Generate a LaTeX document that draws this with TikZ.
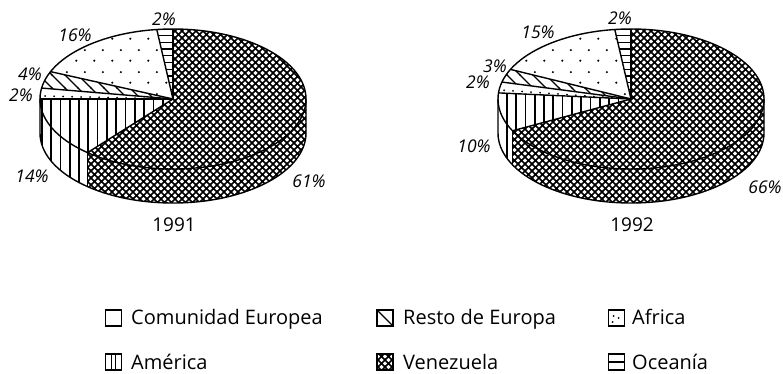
\documentclass[tikz,border=0pt]{standalone}
\usepackage{fontspec}
\setmainfont{Open Sans}
\usetikzlibrary{patterns,calc}

\pgfdeclarepatternformonly{vbars}{\pgfqpoint{-1pt}{-1pt}}{\pgfqpoint{10.3pt}{10.3pt}}{\pgfqpoint{9.3pt}{9.3pt}}{%
  \pgfsetlinewidth{1.7pt}\pgfpathmoveto{\pgfqpoint{4.6pt}{-1pt}}\pgfpathlineto{\pgfqpoint{4.6pt}{10.3pt}}\pgfusepath{stroke}}
\pgfdeclarepatternformonly{hbars}{\pgfqpoint{-1pt}{-1pt}}{\pgfqpoint{7.7pt}{7.7pt}}{\pgfqpoint{6.7pt}{6.7pt}}{%
  \pgfsetlinewidth{1.3pt}\pgfpathmoveto{\pgfqpoint{-1pt}{3.3pt}}\pgfpathlineto{\pgfqpoint{7.7pt}{3.3pt}}\pgfusepath{stroke}}
\pgfdeclarepatternformonly{nwlines}{\pgfqpoint{-1pt}{-1pt}}{\pgfqpoint{14pt}{14pt}}{\pgfqpoint{13pt}{13pt}}{%
  \pgfsetlinewidth{1.2pt}\pgfpathmoveto{\pgfqpoint{-1pt}{14pt}}\pgfpathlineto{\pgfqpoint{14pt}{-1pt}}\pgfusepath{stroke}}
\pgfdeclarepatternformonly{xhatch}{\pgfqpoint{-1pt}{-1pt}}{\pgfqpoint{8pt}{8pt}}{\pgfqpoint{7pt}{7pt}}{%
  \pgfsetlinewidth{1.7pt}%
  \pgfpathmoveto{\pgfqpoint{-1pt}{-1pt}}\pgfpathlineto{\pgfqpoint{8pt}{8pt}}%
  \pgfpathmoveto{\pgfqpoint{-1pt}{8pt}}\pgfpathlineto{\pgfqpoint{8pt}{-1pt}}\pgfusepath{stroke}}
\pgfdeclarepatternformonly{sdots}{\pgfqpoint{0pt}{0pt}}{\pgfqpoint{18pt}{22pt}}{\pgfqpoint{18pt}{22pt}}{%
  \pgfpathcircle{\pgfqpoint{4.5pt}{5.5pt}}{1.2pt}\pgfpathcircle{\pgfqpoint{13.5pt}{16.5pt}}{1.2pt}\pgfusepath{fill}}

\tikzset{
  rim/.style={line width=1.4pt, line join=round},
  dotrow/.style={line width=2pt, line cap=round, dash pattern=on 0pt off 9pt},
  pct/.style={font=\fontsize{17.5}{19}\selectfont\itshape, inner sep=0pt},
  yr/.style={font=\fontsize{19}{21}\selectfont, inner sep=0pt},
  legbox/.style={draw, line width=1.2pt, minimum size=16pt, inner sep=0pt},
  legtext/.style={font=\fontsize{20}{22}\selectfont, inner sep=0pt},
  er/.style={x radius=133pt, y radius=70pt}
}

% #1 name, #2 cx, #3 cy, #4..#8 slice boundaries
\newcommand{\mypie}[8]{%
  \coordinate (#1) at (#2,#3);
  % sides
  \fill[pattern=vbars] ($(#1)+(180:133pt and 70pt)$) arc[start angle=180,end angle=#8,er] -- ++(0,-34) arc[start angle=#8,end angle=180,er] -- cycle;
  \fill[pattern=xhatch] ($(#1)+(#8:133pt and 70pt)$) arc[start angle=#8,end angle=360,er] -- ++(0,-34) arc[start angle=360,end angle=#8,er] -- cycle;
  % top face
  \fill[pattern=hbars] (#1) -- ++(90:133pt and 70pt) arc[start angle=90,end angle=#4,er] -- cycle;
  \fill[pattern=sdots] (#1) -- ++(#4:133pt and 70pt) arc[start angle=#4,end angle=#5,er] -- cycle;
  \fill[pattern=nwlines] (#1) -- ++(#5:133pt and 70pt) arc[start angle=#5,end angle=#6,er] -- cycle;
  \fill[pattern=vbars] (#1) -- ++(#7:133pt and 70pt) arc[start angle=#7,end angle=#8,er] -- cycle;
  \fill[pattern=xhatch] (#1) -- ++(#8:133pt and 70pt) arc[start angle=#8,end angle=450,er] -- cycle;
  \draw[dotrow] (#1) ++({#7-2.5}:128pt and 67pt) -- (#1);
  % outlines
  \draw[rim] (#1) ellipse[er];
  \foreach \a in {90,#4,#5,#6,#7,#8} \draw[rim] (#1) -- ++(\a:133pt and 70pt);
  \draw[rim] ($(#1)+(180:133pt and 70pt)$) -- ++(0,-34) arc[start angle=180,end angle=360,er] -- ++(0,34);
  \draw[rim] ($(#1)+(#8:133pt and 70pt)$) -- ++(0,-34);
}

\begin{document}
\begin{tikzpicture}[x=1pt,y=1pt]
\useasboundingbox (0,0) rectangle (783,-374);

\mypie{pa}{173}{-99}{97}{157}{171}{180}{230}
\mypie{pb}{631}{-99}{97}{155}{166}{175}{207}

% labels 1991
\node[pct] (a1) at (164,-19) {2\%};
\node[pct] (a2) at (75,-35) {16\%};
\node[pct] (a3) at (30,-74) {4\%};
\node[pct] (a4) at (21,-95) {2\%};
\node[pct] (a5) at (32,-176) {14\%};
\node[pct] (a6) at (309,-181) {61\%};
\node[yr] (ya) at (174,-225) {1991};

% labels 1992
\node[pct] (b1) at (620,-18) {2\%};
\node[pct] (b2) at (538,-32) {15\%};
\node[pct] (b3) at (495,-66) {3\%};
\node[pct] (b4) at (478,-82) {2\%};
\node[pct] (b5) at (474,-146) {10\%};
\node[pct] (b6) at (765,-187) {66\%};
\node[yr] (yb) at (632,-225) {1992};

% legend
\node[legbox] (kce) at (113.5,-318) {};
\node[legtext, anchor=base west] (tce) at (131,-324) {Comunidad Europea};
\node[legbox, path picture={\draw[line width=1.2pt] (path picture bounding box.north west) -- (path picture bounding box.south east);}] (kre) at (385,-318) {};
\node[legtext, anchor=base west] (tre) at (403,-324) {Resto de Europa};
\node[legbox, path picture={\fill ($(path picture bounding box.center)+(-3,2)$) circle (1pt) ($(path picture bounding box.center)+(2,0)$) circle (1pt) ($(path picture bounding box.center)+(-4,-4)$) circle (1pt);}] (kaf) at (616.5,-318) {};
\node[legtext, anchor=base west] (taf) at (632,-324) {Africa};

\node[legbox, path picture={\draw[line width=1.2pt] ($(path picture bounding box.center)+(-2,-9)$) -- ++(0,18) ($(path picture bounding box.center)+(2,-9)$) -- ++(0,18);}] (kam) at (113.5,-362) {};
\node[legtext, anchor=base west] (tam) at (131,-369) {América};
\node[legbox, pattern=xhatch] (kve) at (385,-362) {};
\node[legtext, anchor=base west] (tve) at (403,-369) {Venezuela};
\node[legbox, path picture={\draw[line width=1.2pt] ($(path picture bounding box.center)+(-9,0)$) -- ++(18,0);}] (koc) at (616.5,-362) {};
\node[legtext, anchor=base west] (toc) at (632,-369) {Oceanía};
\end{tikzpicture}
\end{document}
